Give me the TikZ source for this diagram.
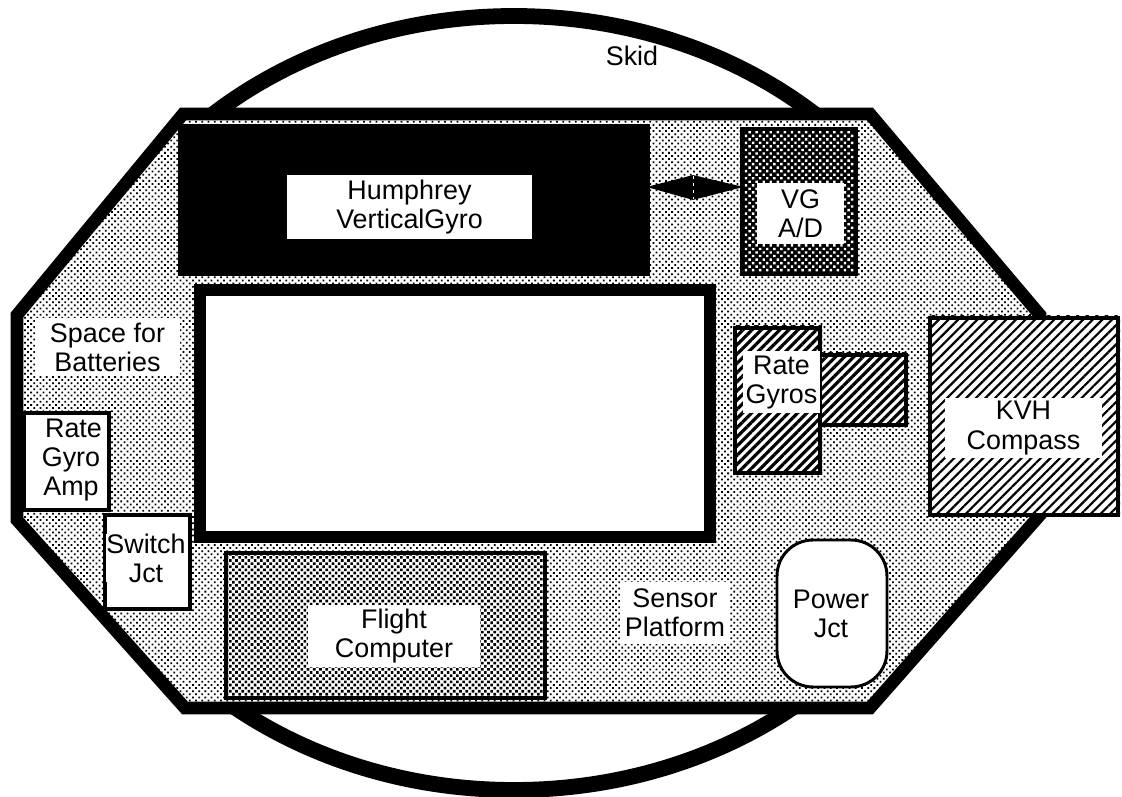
\documentclass[tikz,border=0pt]{standalone}
\usepackage{fontspec}
\setmainfont{Liberation Sans}
\usetikzlibrary{patterns.meta}
\tikzset{
  lightdots/.style={pattern={Dots[angle=45,distance=.044cm,radius=.0125cm]},pattern color=black},
  middots/.style={pattern={Dots[angle=45,distance=.044cm,radius=.0185cm]},pattern color=black},
  darkdots/.style={pattern={Dots[angle=45,distance=.05cm,radius=.017cm]},pattern color=white},
  widehatch/.style={pattern={Lines[angle=45,distance=.068cm,line width=.022cm]},pattern color=black},
  heavyhatch/.style={pattern={Lines[angle=45,distance=.065cm,line width=.032cm]},pattern color=black},
  labeltext/.style={fill=white,inner sep=0pt,align=center,font=\fontsize{7.65}{8.3}\selectfont}
}
\begin{document}
\begin{tikzpicture}[x=1cm,y=-1cm,line join=miter]
  \useasboundingbox (0,0) rectangle (11.22,7.97);
  \fill[white] (0,0) rectangle (11.22,7.97);

  % Skid hoop behind the platform
  \draw[line width=4.5pt] (5.14,4.03) ellipse [x radius=4.52,y radius=3.87];
  \node[labeltext,fill=none] (skid) at (6.32,.56) {Skid};

  % Sensor platform outline
  \fill[white] (1.83,1.14)--(8.7,1.14)--(10.4,3.15)--(10.4,5.15)--(8.7,7.08)
    --(1.85,7.08)--(.17,5.2)--(.17,3.15)--cycle;
  \fill[lightdots] (1.83,1.14)--(8.7,1.14)--(10.4,3.15)--(10.4,5.15)--(8.7,7.08)
    --(1.85,7.08)--(.17,5.2)--(.17,3.15)--cycle;
  \draw[line width=3.6pt] (1.83,1.14)--(8.7,1.14)--(10.4,3.15)--(10.4,5.15)--(8.7,7.08)
    --(1.85,7.08)--(.17,5.2)--(.17,3.15)--cycle;

  % Vertical gyro and its A/D box
  \fill (1.78,1.24) rectangle (6.5,2.76);
  \node[labeltext,minimum width=2.45cm,minimum height=.64cm] (gyro) at (4.095,2.07)
    {Humphrey\\VerticalGyro};
  \fill[black] (7.4,1.27) rectangle (8.58,2.76);
  \fill[darkdots] (7.44,1.31) rectangle (8.54,2.72);
  \node[labeltext,minimum width=.87cm,minimum height=.61cm] (adbox) at (8.005,2.135)
    {VG\\A/D};
  \filldraw[line width=.5pt] (6.5,1.87)--(6.93,1.76)--(7.4,1.87)--(6.93,1.99)--cycle;
  \draw[white,line width=.2pt,dash pattern=on .8pt off 1.2pt] (6.93,1.76)--(6.93,1.99);

  % Centre opening
  \fill[white] (2,2.9) rectangle (7.1,5.37);
  \draw[line width=3.4pt] (2,2.9) rectangle (7.1,5.37);

  \node[labeltext,minimum width=1.45cm,minimum height=.58cm] (batt) at (1.075,3.47)
    {Space for\\Batteries};

  % Boxes at lower left
  \draw[fill=white,line width=1pt] (.24,4.13) rectangle (1.09,5.1);
  \node[labeltext] (amp) at (.71,4.6) {\hspace*{.05cm}Rate\\Gyro\\Amp};
  \draw[fill=white,line width=1pt] (1.05,5.15) rectangle (1.9,6.09);
  \node[labeltext] (switch) at (1.46,5.58) {Switch\\Jct};

  % Flight computer
  \fill[white] (2.26,5.53) rectangle (5.45,6.98);
  \fill[middots] (2.26,5.53) rectangle (5.45,6.98);
  \draw[line width=1.3pt] (2.26,5.53) rectangle (5.45,6.98);
  \node[labeltext,minimum width=1.72cm,minimum height=.62cm] (flight) at (3.94,6.36)
    {Flight\\Computer};

  \node[labeltext,minimum width=1.1cm,minimum height=.62cm] (platform) at (6.75,6.13)
    {Sensor\\Platform};

  \draw[fill=white,line width=.85pt,rounded corners=.36cm] (7.77,5.4) rectangle (8.87,6.87);
  \node[labeltext] (power) at (8.31,6.14) {Power\\Jct};

  % Rate gyros
  \fill[white] (7.33,3.26) rectangle (8.22,4.75);
  \fill[white] (8.22,3.53) rectangle (9.08,4.27);
  \fill[heavyhatch] (7.33,3.26) rectangle (8.22,4.75);
  \fill[heavyhatch] (8.22,3.53) rectangle (9.08,4.27);
  \draw[line width=.9pt] (7.35,3.28) rectangle (8.2,4.73);
  \draw[line width=.9pt] (8.2,3.55) rectangle (9.06,4.25);
  \node[labeltext,minimum width=.77cm,minimum height=.62cm] (rate) at (7.815,3.825)
    {Rate\\Gyros};

  % Compass sticks out past the platform
  \fill[white] (9.28,3.16) rectangle (11.2,5.17);
  \fill[widehatch] (9.28,3.16) rectangle (11.2,5.17);
  \draw[line width=.9pt] (9.3,3.18) rectangle (11.18,5.15);
  \node[labeltext,minimum width=1.57cm,minimum height=.6cm] (kvh) at (10.235,4.28)
    {KVH\\Compass};
\end{tikzpicture}
\end{document}
